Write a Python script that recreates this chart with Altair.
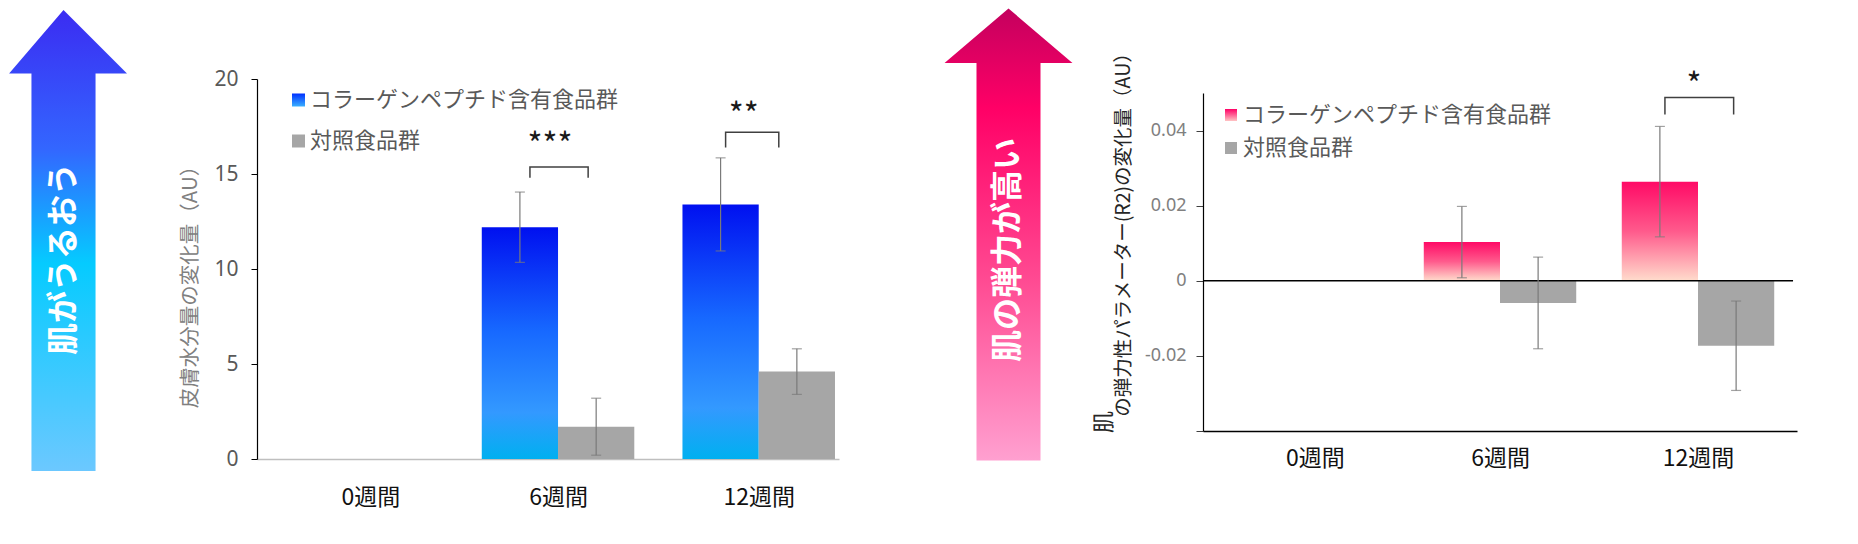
import json
import pandas as pd
import altair as alt

W, H = 1840, 526
FONT = "Noto Sans CJK JP"
NUMFONT = "Noto Sans"

# ---------------- data ----------------
weeks = ["0週間", "6週間", "12週間"]
groups = ["コラーゲンペプチド含有食品群", "対照食品群"]
measured_week_idx = [1, 2]          # 6週間, 12週間

moist_collagen = [12.2, 13.4]
moist_collagen_err = [1.85, 2.45]
moist_control = [1.7, 4.6]
moist_control_err = [1.5, 1.2]
moist_marks = ["***", "**"]

elastic_collagen = [0.0103, 0.0264]
elastic_collagen_err = [0.0095, 0.0147]
elastic_control = [-0.0059, -0.0173]
elastic_control_err = [0.0122, 0.0119]
elastic_marks = ["", "*"]

left_title = "皮膚水分量の変化量（AU）"
right_title = "の弾力性パラメーター(R2)の変化量（AU）"
right_title_head = "肌"
left_arrow_text = "肌がうるおう"
right_arrow_text = "肌の弾力が高い"

# significance annotation geometry: (left, right offsets from week index, leg bottom, top, star dx, star y)
moist_bracket = [(-0.14, 0.15, 14.8, 15.37, -0.04, 16.45), (-0.165, 0.10, 16.4, 17.2, -0.075, 18.05)]
elastic_bracket = [None, (-0.167, 0.18, 0.0443, 0.0488, -0.02, 0.0518)]

# tick positions of the week labels on the axis (the first label sits slightly right)
week_ticks = [0.065, 1, 2]


def vgrad(stops):
    return alt.LinearGradient(
        gradient="linear",
        stops=[alt.GradientStop(color=c, offset=o) for o, c in stops],
        x1=0, x2=0, y1=0, y2=1,
    )


BLUE = vgrad([(0, "#0010F0"), (0.45, "#1769FF"), (0.8, "#3399FF"), (1, "#00B0F0")])
PINK = vgrad([(0, "#FF0A66"), (0.5, "#FF5A8C"), (1, "#FFDCCC")])
BLUE_SW = vgrad([(0, "#0030FF"), (1, "#3AB0FF")])
PINK_SW = vgrad([(0, "#FF0066"), (1, "#FFC4C4")])
ARROW_BLUE = vgrad([(0, "#3B2CF2"), (0.3, "#3366FF"), (0.55, "#05CBFF"), (1, "#6CC8FF")])
ARROW_PINK = vgrad([(0, "#C4005E"), (0.22, "#FF0066"), (0.6, "#FF4A92"), (1, "#FFA0D0")])
GRAY = "#A6A6A6"
ERR = "#7A7A7A"


def frames(coll, coll_err, ctrl, ctrl_err, bw):
    rc, rk = [], []
    for i, idx in enumerate(measured_week_idx):
        rc.append(dict(x0=idx - bw, x1=idx, xc=idx - bw / 2, v=coll[i],
                       lo=coll[i] - coll_err[i], hi=coll[i] + coll_err[i], base=0))
        rk.append(dict(x0=idx, x1=idx + bw, xc=idx + bw / 2, v=ctrl[i],
                       lo=ctrl[i] - ctrl_err[i], hi=ctrl[i] + ctrl_err[i], base=0))
    return pd.DataFrame(rc), pd.DataFrame(rk)


def panel(coll, coll_err, ctrl, ctrl_err, marks, brackets, bw, xs, ys, xax, yax, fill, extra=None):
    dc, dk = frames(coll, coll_err, ctrl, ctrl_err, bw)
    both = pd.concat([dc, dk], ignore_index=True)
    caps = pd.concat([both[["xc"]].assign(y=both["lo"]), both[["xc"]].assign(y=both["hi"])], ignore_index=True)

    def X(f):
        return alt.X(f, type="quantitative", scale=xs, axis=xax)

    def Y(f):
        return alt.Y(f, type="quantitative", scale=ys, axis=yax)

    layers = [
        alt.Chart(dc).mark_rect(fill=fill, strokeWidth=0).encode(x=X("x0"), x2="x1", y=Y("v"), y2="base"),
        alt.Chart(dk).mark_rect(fill=GRAY, strokeWidth=0).encode(x=X("x0"), x2="x1", y=Y("v"), y2="base"),
    ]
    if extra is not None:
        layers.append(extra(X, Y))
    layers += [
        alt.Chart(both).mark_rule(color=ERR, strokeWidth=1.2).encode(x=X("xc"), y=Y("lo"), y2="hi"),
        alt.Chart(caps).mark_tick(orient="horizontal", size=10, thickness=1.2, color=ERR).encode(x=X("xc"), y=Y("y")),
    ]
    brows, srows = [], []
    for i, idx in enumerate(measured_week_idx):
        b = brackets[i]
        if b is None or not marks[i]:
            continue
        l, r, ybot, ytop, sdx, sy = b
        pts = [(idx + l, ybot), (idx + l, ytop), (idx + r, ytop), (idx + r, ybot)]
        for o, (px, py) in enumerate(pts):
            brows.append(dict(bx=px, by=py, bid=i, o=o))
        srows.append(dict(sx=idx + sdx, sy=sy, t=marks[i]))
    layers.append(alt.Chart(pd.DataFrame(brows)).mark_line(color="#404040", strokeWidth=1.5).encode(
        x=X("bx"), y=Y("by"), detail="bid:N", order="o:Q"))
    layers.append(alt.Chart(pd.DataFrame(srows)).mark_text(font=FONT, fontSize=32, color="#1a1a1a",
                                                          baseline="middle", align="center").encode(
        x=X("sx"), y=Y("sy"), text="t:N"))
    return alt.layer(*layers)


label_expr = json.dumps(weeks, ensure_ascii=False) + "[round(datum.value)]"

# left panel scales / axes
xsL = alt.Scale(domain=[-0.5, 2.4], range=[249, 831], zero=False, nice=False)
ysL = alt.Scale(domain=[0, 20], range=[451, 71], nice=False)
xaxL = alt.Axis(orient="bottom", offset=451 - H, values=week_ticks, labelExpr=label_expr, ticks=False,
                domain=True, domainColor="#BFBFBF", domainWidth=1.5, labelPadding=38, labelBaseline="middle",
                labelFont=FONT, labelFontSize=23, labelColor="#111111", grid=False, title=None,
                labelFlush=False, labelOverlap=False)
yaxL = alt.Axis(orient="left", offset=-249, values=[0, 5, 10, 15, 20], tickSize=6, tickColor="#000000",
                tickWidth=1, domainColor="#000000", domainWidth=1.2, labelPadding=13, labelFont=NUMFONT,
                labelFontSize=21, labelColor="#595959", grid=False, title=None, labelOverlap=False)

# right panel scales / axes
xsR = alt.Scale(domain=[-0.5, 2.5], range=[1195, 1789], zero=False, nice=False)
ysR = alt.Scale(domain=[-0.04, 0.05], range=[423, 85], zero=False, nice=False)
xaxR = alt.Axis(orient="bottom", offset=423 - H, values=week_ticks, labelExpr=label_expr, ticks=False,
                domain=True, domainColor="#000000", domainWidth=1.5, labelPadding=27, labelBaseline="middle",
                labelFont=FONT, labelFontSize=23, labelColor="#111111", grid=False, title=None,
                labelFlush=False, labelOverlap=False)
yaxR = alt.Axis(orient="left", offset=-1195, values=[-0.04, -0.02, 0, 0.02, 0.04], tickSize=7,
                tickColor="#404040", tickWidth=1, domainColor="#000000", domainWidth=1.2, labelPadding=10,
                labelFont=NUMFONT, labelFontSize=18, labelColor="#808080", grid=False, title=None,
                labelOverlap=False,
                labelExpr="datum.value < -0.03 ? '' : (datum.value == 0 ? '0' : (datum.value < 0 ? '-' + format(-datum.value, '.2f') : format(datum.value, '.2f')))")


def zero_line(X, Y):
    return alt.Chart(pd.DataFrame([dict(a=-0.5, b=2.48, z=0)])).mark_rule(
        color="#000000", strokeWidth=1.6).encode(x=X("a"), x2="b", y=Y("z"))


left = panel(moist_collagen, moist_collagen_err, moist_control, moist_control_err, moist_marks,
             moist_bracket, 0.38, xsL, ysL, xaxL, yaxL, BLUE)
right = panel(elastic_collagen, elastic_collagen_err, elastic_control, elastic_control_err, elastic_marks,
              elastic_bracket, 0.385, xsR, ysR, xaxR, yaxR, PINK, extra=zero_line)

# ---------------- decorations ----------------
one = alt.Data(values=[{"a": 1}])


def arrow_path(hl, hr, hs, b):
    return f"M0,-1L{hr},{b}L{hs},{b}L{hs},1L{-hs},1L{-hs},{b}L{hl},{b}Z"


def arrow(cx, cy, side, path, grad):
    return alt.Chart(one).mark_point(shape=path, size=side * side, filled=True, fill=grad, opacity=1,
                                     fillOpacity=1, strokeWidth=0).encode(x=alt.value(cx), y=alt.value(cy))


def txt(s, x, y, size, color, angle=0, weight="normal", align="center", font=FONT):
    return alt.Chart(one).mark_text(text=s, font=font, fontSize=size, color=color, angle=angle,
                                    fontWeight=weight, align=align, baseline="middle").encode(
        x=alt.value(x), y=alt.value(y))


def swatch(x0, x1, y0, y1, fill):
    return alt.Chart(one).mark_rect(fill=fill, strokeWidth=0).encode(
        x=alt.value(x0), x2=alt.value(x1), y=alt.value(y0), y2=alt.value(y1))


decor = [
    arrow(55.5, 232.5, 461, arrow_path(-0.236, 0.2755, 0.139, -0.725), ARROW_BLUE),
    txt(left_arrow_text, 56, 251, 32, "#FFFFFF", angle=270, weight="bold"),
    arrow(1000.5, 226.5, 452, arrow_path(-0.283, 0.283, 0.1416, -0.759), ARROW_PINK),
    txt(right_arrow_text, 1000, 242, 32, "#FFFFFF", angle=270, weight="bold"),
    txt(left_title, 183, 274, 20.5, "#808080", angle=270),
    txt(right_title, 1116, 222, 19.5, "#262626", angle=270),
    txt(right_title_head, 1096, 414, 22, "#262626", angle=270),
    swatch(284, 297, 85.5, 98.5, BLUE_SW),
    txt(groups[0], 302, 92, 22, "#595959", align="left"),
    swatch(284, 297, 126.5, 139.5, GRAY),
    txt(groups[1], 302, 133, 22, "#595959", align="left"),
    swatch(1217, 1229, 101, 113, PINK_SW),
    txt(groups[0], 1235, 107, 22, "#595959", align="left"),
    swatch(1217, 1229, 134, 146, GRAY),
    txt(groups[1], 1235, 140, 22, "#595959", align="left"),
]

chart = (
    alt.layer(*decor, left, right)
    .resolve_scale(x="independent", y="independent")
    .properties(width=W, height=H, padding=0, background="white")
    .configure_view(strokeWidth=0)
)

chart.save("out.html", embed_options={"renderer": "svg", "actions": False})
